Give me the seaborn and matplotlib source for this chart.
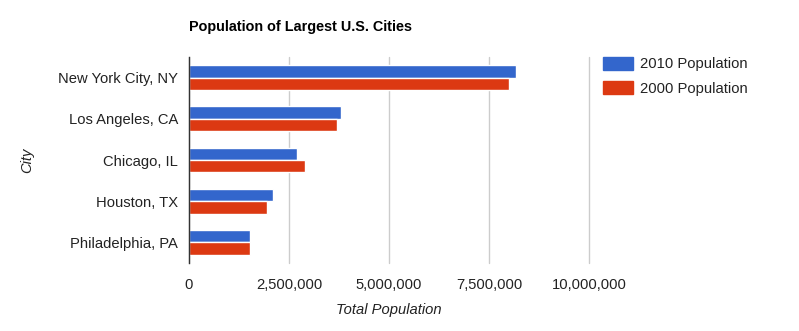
import matplotlib
matplotlib.use("Agg")
import matplotlib.pyplot as plt
import seaborn as sns
import pandas as pd
from matplotlib.patches import Patch
from matplotlib.ticker import FuncFormatter

cities = ["New York City, NY", "Los Angeles, CA", "Chicago, IL", "Houston, TX", "Philadelphia, PA"]
pop_2010 = [8175000, 3792000, 2695000, 2099000, 1526000]
pop_2000 = [8008000, 3694000, 2896000, 1953000, 1517000]
series = ["2010 Population", "2000 Population"]
colors = ["#3366cc", "#dc3912"]
xticks = [0, 2500000, 5000000, 7500000, 10000000]

df = pd.DataFrame({
    "City": cities * 2,
    "Population": pop_2010 + pop_2000,
    "Series": [series[0]] * len(cities) + [series[1]] * len(cities),
})

sns.set_theme(style="white")
plt.rcParams["font.family"] = ["Liberation Sans", "DejaVu Sans"]

fig = plt.figure(figsize=(7.99, 3.31), dpi=100)
ax = fig.add_axes([189 / 799, 1 - 263 / 331, 400 / 799, 206 / 331])

sns.barplot(data=df, y="City", x="Population", hue="Series", order=cities,
            hue_order=series, palette=colors, width=0.6, ax=ax, saturation=1,
            orient="h", legend=False)

ax.set_xlim(0, 10000000)
ax.set_xticks(xticks)
ax.xaxis.set_major_formatter(FuncFormatter(lambda v, p: f"{int(v):,}"))
ax.grid(axis="x", color="#cccccc", linewidth=1)
for gl in ax.get_xgridlines():
    gl.set_clip_on(False)
ax.set_axisbelow(True)
for s in ["top", "right", "bottom"]:
    ax.spines[s].set_visible(False)
ax.spines["left"].set_color("#333333")
ax.spines["left"].set_linewidth(1)
ax.tick_params(axis="both", length=0, labelsize=10.6, colors="#222222")
ax.tick_params(axis="y", pad=8)
ax.tick_params(axis="x", pad=11)
ax.set_xlabel("Total Population", fontsize=10.6, style="italic", color="#222222", labelpad=8)
ax.set_ylabel("City", fontsize=10.6, style="italic", color="#222222", labelpad=17)

fig.text(189 / 799, 1 - 27 / 331, "Population of Largest U.S. Cities", fontsize=10.4,
         fontweight="bold", color="#000000", va="center", ha="left")

handles = [Patch(facecolor=c, edgecolor=c) for c in colors]
fig.legend(handles, series, loc="upper left", bbox_to_anchor=(603 / 799, 1 - 57 / 331),
           frameon=False, fontsize=10.6, handlelength=2.05, handleheight=0.96,
           labelspacing=0.68, handletextpad=0.45, labelcolor="#222222",
           borderpad=0, borderaxespad=0)

fig.savefig("out.png", dpi=100)
